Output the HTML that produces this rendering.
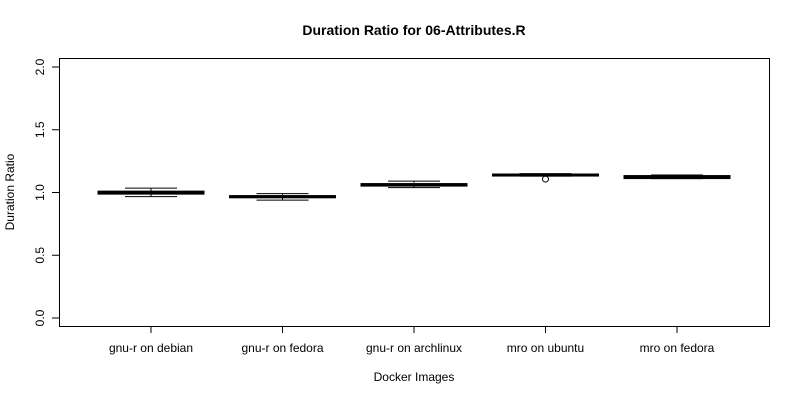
<!DOCTYPE html>
<html><head><meta charset="utf-8"><style>
body{margin:0;background:#fff}
svg text{font-family:"Liberation Sans",sans-serif;fill:#000}
</style></head><body>
<svg id="chart" width="800" height="400" xmlns="http://www.w3.org/2000/svg">
<text x="414" y="35" text-anchor="middle" font-size="14" font-weight="bold">Duration Ratio for 06-Attributes.R</text>
<text x="414" y="381" text-anchor="middle" font-size="12">Docker Images</text>
<text x="14" y="192" text-anchor="middle" font-size="12" transform="rotate(-90 14 192)">Duration Ratio</text>
<rect x="59.5" y="58.5" width="710" height="268" fill="none" stroke="#000"/>
<g id="marks"></g>
</svg>
<script>
const categories=["gnu-r on debian","gnu-r on fedora","gnu-r on archlinux","mro on ubuntu","mro on fedora"];
const whiskerLow=[0.967,0.939,1.039,1.130,1.111];
const q1=[0.987,0.959,1.051,1.131,1.111];
const medians=[0.999,0.966,1.061,1.139,1.123];
const q3=[1.011,0.975,1.071,1.147,1.135];
const whiskerHigh=[1.035,0.991,1.091,1.150,1.139];
const outliers=[[],[],[],[1.107],[]];
const yTicks=[0,0.5,1,1.5,2];
const yTickLabels=["0.0","0.5","1.0","1.5","2.0"];
const NS="http://www.w3.org/2000/svg";
const g=document.getElementById('marks');
const y=v=>318-v*125.5;
const x=i=>151+i*131.5;
function mk(t,a){const e=document.createElementNS(NS,t);for(const k in a)e.setAttribute(k,a[k]);g.appendChild(e);return e;}
yTicks.forEach((v,i)=>{
  const l=mk('line',{x1:52,x2:59,y1:y(v),y2:y(v),stroke:'#000'});
  
  
  const t=mk('text',{x:44,y:y(v),'font-size':12,'text-anchor':'middle',transform:`rotate(-90 44 ${y(v)})`});
  
  
  t.textContent=yTickLabels[i];
});
categories.forEach((c,i)=>{
  const cx=x(i);
  const tk=mk('line',{x1:cx,x2:cx,y1:326,y2:333,stroke:'#000'});
  
  
  const t=mk('text',{x:cx,y:352,'font-size':12,'text-anchor':'middle'});
  
  
  t.textContent=c;
  const w=mk('line',{x1:cx,x2:cx,y1:y(whiskerLow[i]),y2:y(whiskerHigh[i]),stroke:'#000','stroke-dasharray':'3,2'});
  
  
  [whiskerLow[i],whiskerHigh[i]].forEach(v=>{
    const cap=mk('line',{x1:cx-26,x2:cx+26,y1:y(v),y2:y(v),stroke:'#000'});
    
    
  });
  const b=mk('rect',{x:cx-53,y:y(q3[i]),width:106,height:Math.max(0.5,y(q1[i])-y(q3[i])),fill:'#fff',stroke:'#000'});
  
  
  const m=mk('line',{x1:cx-53,x2:cx+53,y1:y(medians[i]),y2:y(medians[i]),stroke:'#000','stroke-width':3});
  
  
  outliers[i].forEach(v=>{
    const o=mk('circle',{cx:cx,cy:y(v),r:3,fill:'none',stroke:'#000'});
    
    
  });
});
</script>
</body></html>
